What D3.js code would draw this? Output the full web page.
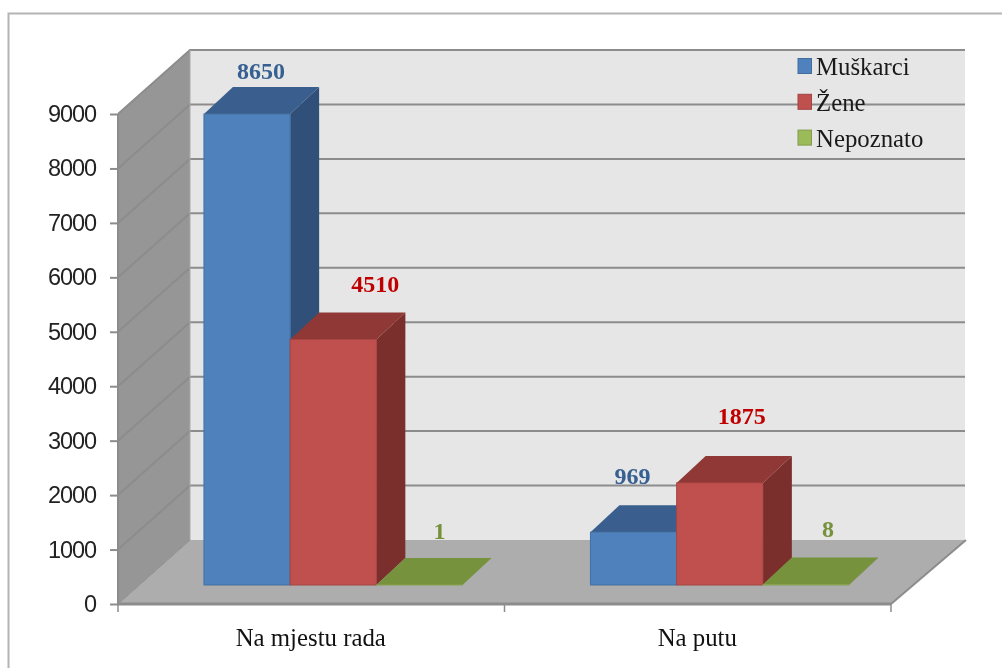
<!DOCTYPE html>
<html><head><meta charset="utf-8">
<script src="https://cdn.jsdelivr.net/npm/d3@7"></script>
<style>
html,body{margin:0;padding:0;background:#fff;overflow:hidden}
svg{display:block;filter:blur(0.6px)}
</style></head><body>
<script>
const categories = ["Na mjestu rada", "Na putu"];
const seriesNames = ["Muškarci", "Žene", "Nepoznato"];
const muskarci = [8650, 969];
const zene = [4510, 1875];
const nepoznato = [1, 8];
const seriesValues = [muskarci, zene, nepoznato];
const yTicks = [0,1000,2000,3000,4000,5000,6000,7000,8000,9000];
const front = ["#4f81bd","#c0504d","#9bbb59"];
const topC = ["#3a5f8e","#8f3836","#76923c"];
const side = ["#30507a","#7a2f2d","#5f7a30"];
const labelC = ["#366092","#c00000","#76923c"];
const labelDx = [[14,42,20],[-1,22,22]];
const labelDy = [[-8,-20,-19],[-21,-32,-21]];

const W=1002,H=668;
const svg=d3.select("body").append("svg").attr("width",W).attr("height",H);
const x0=118,x1=891,y0=604,y9=114,dX=72,dY=-64;
const y=d3.scaleLinear().domain([0,9000]).range([y0,y9]);
const cat=d3.scaleBand().domain(categories).range([x0,x1]);
const depth=0.297;   // front plane of the bars
const barDX=29, barDY=-27;
const ser=d3.scaleBand().domain(d3.range(3)).range([0,86.2*3]);
const poly=(g,pts,fill,stroke)=>g.append("polygon").attr("points",pts.map(p=>p.join(",")).join(" ")).attr("fill",fill).attr("stroke",stroke||"none").attr("stroke-width",stroke?1:0);

// frame
svg.append("path").attr("d",`M8.5 668V13.5H1002`).attr("fill","none").attr("stroke","#b4b4b4").attr("stroke-width",2);

// walls
const g=svg.append("g");
poly(g,[[x0+dX,y9+dY],[x1+dX+2,y9+dY],[x1+dX+2,y0+dY],[x0+dX,y0+dY]],"#e6e6e6");
poly(g,[[x0,y9],[x0+dX,y9+dY],[x0+dX,y0+dY],[x0,y0]],"#969696");
poly(g,[[x0,y0],[x0+dX,y0+dY],[x1+dX+3,y0+dY],[x1,y0]],"#adadad");
// gridlines
yTicks.forEach(t=>{
  if(t>0){
    g.append("path").attr("d",`M${x0} ${y(t)}L${x0+dX} ${y(t)+dY}H${x1+dX+2}`).attr("fill","none").attr("stroke","#8c8c8c").attr("stroke-width",2);
  }
});
g.append("path").attr("d",`M${x0+dX} ${y9+dY}V${y0+dY}`).attr("stroke","#a8a8a8").attr("stroke-width",1);
g.append("path").attr("d",`M${x0} ${y0}L${x0+dX} ${y0+dY}`).attr("stroke","#8c8c8c").attr("stroke-width",1);
g.append("path").attr("d",`M${x1} ${y0}L${x1+dX+3} ${y0+dY}`).attr("stroke","#8c8c8c").attr("stroke-width",2);

// axes
const axY=d3.axisLeft(y).tickValues(yTicks).tickSize(8).tickPadding(14).tickFormat(d3.format("d"));
const gy=svg.append("g").attr("transform",`translate(${x0},0)`).call(axY);
gy.selectAll("line,path").attr("stroke","#8c8c8c").attr("stroke-width",2);
gy.selectAll("text").attr("font-family","'Liberation Sans',sans-serif").attr("font-size",23.5).attr("fill","#222").attr("letter-spacing",-1.1);
gy.select(".domain").attr("d",`M0 ${y9}V${y0}`);
const axX=d3.axisBottom(cat).tickSize(0).tickPadding(24);
const gx=svg.append("g").attr("transform",`translate(0,${y0})`).call(axX);
gx.select(".domain").attr("d",`M${x0} 0H${x1}`).attr("stroke","#8c8c8c").attr("stroke-width",3);
gx.selectAll("text").attr("font-family","'Liberation Serif',serif").attr("font-size",24.8).attr("fill","#111").attr("dx",-0.5);
[x0,cat(categories[1]),x1].forEach(t=>gx.append("line").attr("x1",t).attr("x2",t).attr("y1",0).attr("y2",8).attr("stroke","#8c8c8c").attr("stroke-width",1.5));

// bars, painted left to right so that each front face covers the previous side face
const baseY=y0+dY*depth, shift=22;
const barsG=svg.append("g");
categories.forEach((c,ci)=>{
  const gx0=cat(c)+shift+(cat.bandwidth()-ser.step()*3)/2;
  [0,1,2].forEach(si=>{
    const v=seriesValues[si][ci];
    const xl=gx0+ser(si), xr=xl+ser.bandwidth();
    const h=y0-y(v), yt=baseY-h;
    const b=barsG.append("g");
    poly(b,[[xr,yt],[xr+barDX,yt+barDY],[xr+barDX,baseY+barDY],[xr,baseY]],side[si]);
    poly(b,[[xl,yt],[xl+barDX,yt+barDY],[xr+barDX,yt+barDY],[xr,yt]],topC[si]);
    b.append("rect").attr("x",xl).attr("y",yt).attr("width",xr-xl).attr("height",Math.max(h,0)).attr("fill",front[si]).attr("stroke",d3.color(front[si]).darker(0.4)).attr("stroke-width",1);
  });
});
// value labels
categories.forEach((c,ci)=>{
  const gx0=cat(c)+shift+(cat.bandwidth()-ser.step()*3)/2;
  seriesValues.forEach((vals,si)=>{
    const v=vals[ci];
    const cx=gx0+ser(si)+ser.bandwidth()/2, yt=baseY-(y0-y(v))+barDY;
    svg.append("text").attr("x",cx+labelDx[ci][si]).attr("y",yt+labelDy[ci][si])
      .attr("text-anchor","middle").attr("font-family","'Liberation Serif',serif").attr("font-weight","bold")
      .attr("font-size",24).attr("fill",labelC[si]).text(d3.format("d")(v));
  });
});
// legend
const leg=svg.append("g");
seriesNames.forEach((n,i)=>{
  const ly=66+i*35.8;
  leg.append("rect").attr("x",798).attr("y",ly-7.5).attr("width",13.5).attr("height",15).attr("fill",front[i]).attr("stroke",d3.color(front[i]).darker(0.5)).attr("stroke-width",1);
  leg.append("text").attr("x",816).attr("y",ly+9).attr("font-family","'Liberation Serif',serif").attr("font-size",24.8).attr("fill","#1a1a1a").text(n);
});
</script></body></html>
